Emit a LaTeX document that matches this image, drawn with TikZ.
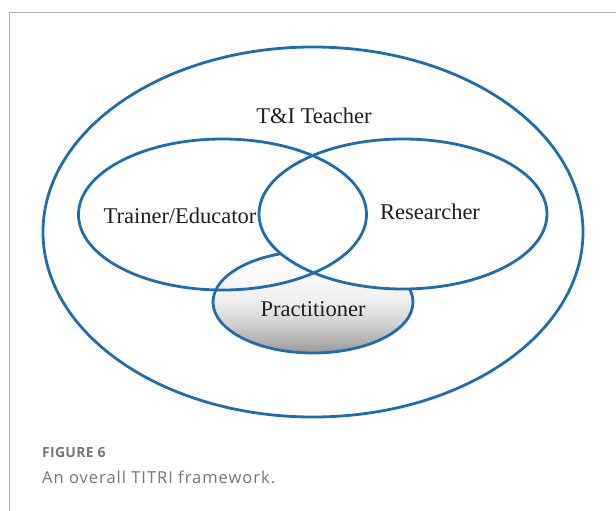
\documentclass[tikz,border=0pt]{standalone}
\usepackage{fontspec}
\setmainfont{Liberation Serif}
\newfontfamily\capfont[LetterSpace=6]{Open Sans}
\newfontfamily\fignofont[LetterSpace=2]{Open Sans}
\usetikzlibrary{shapes.geometric}
\definecolor{ringblue}{RGB}{28,110,178}
\definecolor{framegray}{RGB}{178,178,178}
\definecolor{capgray}{RGB}{118,118,118}
\pgfdeclareverticalshading{practiceshade}{100bp}{color(0bp)=(black!40); color(25bp)=(black!40);
  color(40bp)=(black!17); color(50bp)=(black!7); color(60bp)=(black!3); color(75bp)=(white); color(100bp)=(white)}
\begin{document}
\begin{tikzpicture}[x=1pt,y=-1pt,
    ring/.style={ellipse,draw=ringblue,line width=2.8pt,inner sep=0pt},
    word/.style={font=\fontsize{22.5}{26}\selectfont,text=black!88,anchor=base}]
  \useasboundingbox (0,0) rectangle (616,511);
  \draw[framegray,line width=1pt] (9.5,511) -- (9.5,12.5) -- (616,12.5);
  \node[ring,minimum width=540,minimum height=370] (teacher) at (313,232) {};
  \node[ring,minimum width=200,minimum height=102,shading=practiceshade] (practice) at (313,302) {};
  \node[ring,fill=white,minimum width=288,minimum height=150] (research) at (403,214) {};
  \node[ring,minimum width=288,minimum height=151] (train) at (222.5,214.5) {};
  \draw
    (314,124) node[word] (teacherlbl) {T\&I Teacher}
    (180,223) node[word] (trainlbl) {Trainer/Educator}
    (430,219) node[word] (researchlbl) {Researcher}
    (313,316) node[word] (practicelbl) {Practitioner};
  \node[anchor=base west,inner sep=0pt,text=capgray,
    font=\fignofont\bfseries\fontsize{14}{16}\selectfont] (figno) at (42,457) {FIGURE 6};
  \node[anchor=base west,inner sep=0pt,text=capgray,
    font=\capfont\fontsize{16.5}{19}\selectfont] (caption) at (42,483) {An overall TITRI framework.};
\end{tikzpicture}
\end{document}
